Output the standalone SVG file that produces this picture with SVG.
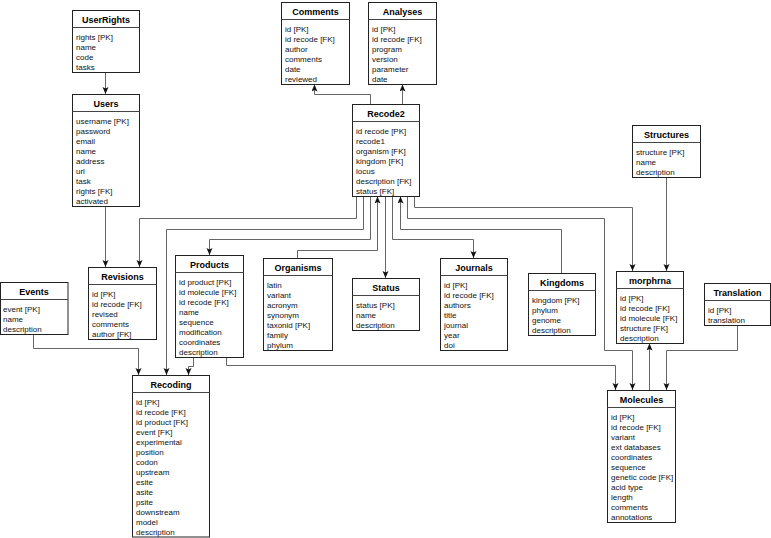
<svg xmlns="http://www.w3.org/2000/svg" width="771" height="538" viewBox="0 0 771 538">
<defs>
<style>
.box{fill:#fff;stroke:#222;stroke-width:1}
.sep{stroke:#444;stroke-width:1}
.hdr{font-family:"Liberation Sans",Arial,sans-serif;font-size:9px;font-weight:bold;text-anchor:middle;fill:#000}
.row{font-family:"Liberation Sans",Arial,sans-serif;font-size:8px;fill:#111}
.conn{fill:none;stroke:#666;stroke-width:1;marker-end:url(#arr)}
</style>
<marker id="arr" markerUnits="userSpaceOnUse" markerWidth="8" markerHeight="7" refX="7" refY="3" orient="auto">
<path d="M0,0 L7,3 L0,6 L1.5,3 z" fill="#111"/>
</marker>
</defs>
<rect width="771" height="538" fill="#fff"/>

<g id="connectors">
<path class="conn" d="M105.5,72.5 V94"/>
<path class="conn" d="M105.5,206.5 V267"/>
<path class="conn" d="M370.5,104 V94.5 H314.5 V84.5"/>
<path class="conn" d="M402.5,104 V84.5"/>
<path class="conn" d="M356.5,196.5 V218.5 H139.5 V267"/>
<path class="conn" d="M363.5,196.5 V229.5 H166.5 V375"/>
<path class="conn" d="M370.5,196.5 V239.5 H209.5 V255"/>
<path class="conn" d="M297.5,258 V250.5 H377.5 V196.5"/>
<path class="conn" d="M385.5,196.5 V278"/>
<path class="conn" d="M392.5,196.5 V239.5 H473.5 V258"/>
<path class="conn" d="M561.5,273 V229.5 H400.5 V196.5"/>
<path class="conn" d="M407.5,196.5 V218.5 H604.5 V350.5 H632.5 V390"/>
<path class="conn" d="M414.5,196.5 V207.5 H632.5 V271"/>
<path class="conn" d="M666.5,177.5 V271"/>
<path class="conn" d="M649.5,390 V343.5"/>
<path class="conn" d="M737.5,325.5 V350.5 H666.5 V390"/>
<path class="conn" d="M226.5,357.5 V365.5 H615.5 V390"/>
<path class="conn" d="M193.5,357.5 V366.5 H188.5 V375"/>
<path class="conn" d="M33.5,334.5 V348.5 H138.5 V375"/>
</g>

<g id="UserRights">
<rect class="box" x="72.5" y="10.5" width="67" height="62"/>
<line class="sep" x1="72.5" y1="27.5" x2="139.5" y2="27.5"/>
<text class="hdr" x="106" y="22.5">UserRights</text>
<text class="row" x="76" y="40">rights [PK]</text>
<text class="row" x="76" y="50">name</text>
<text class="row" x="76" y="60">code</text>
<text class="row" x="76" y="70">tasks</text>
</g>

<g id="Users">
<rect class="box" x="72.5" y="94.5" width="67" height="112"/>
<line class="sep" x1="72.5" y1="111.5" x2="139.5" y2="111.5"/>
<text class="hdr" x="106" y="106.5">Users</text>
<text class="row" x="76" y="124">username [PK]</text>
<text class="row" x="76" y="134">password</text>
<text class="row" x="76" y="144">email</text>
<text class="row" x="76" y="154">name</text>
<text class="row" x="76" y="164">address</text>
<text class="row" x="76" y="174">url</text>
<text class="row" x="76" y="184">task</text>
<text class="row" x="76" y="194">rights [FK]</text>
<text class="row" x="76" y="204">activated</text>
</g>

<g id="Comments">
<rect class="box" x="281.5" y="2.5" width="68" height="82"/>
<line class="sep" x1="281.5" y1="19.5" x2="349.5" y2="19.5"/>
<text class="hdr" x="315.5" y="14.5">Comments</text>
<text class="row" x="285" y="32">id [PK]</text>
<text class="row" x="285" y="42">id recode [FK]</text>
<text class="row" x="285" y="52">author</text>
<text class="row" x="285" y="62">comments</text>
<text class="row" x="285" y="72">date</text>
<text class="row" x="285" y="82">reviewed</text>
</g>

<g id="Analyses">
<rect class="box" x="368.5" y="2.5" width="68" height="82"/>
<line class="sep" x1="368.5" y1="19.5" x2="436.5" y2="19.5"/>
<text class="hdr" x="402.5" y="14.5">Analyses</text>
<text class="row" x="372" y="32">id [PK]</text>
<text class="row" x="372" y="42">id recode [FK]</text>
<text class="row" x="372" y="52">program</text>
<text class="row" x="372" y="62">version</text>
<text class="row" x="372" y="72">parameter</text>
<text class="row" x="372" y="82">date</text>
</g>

<g id="Recode2">
<rect class="box" x="352.5" y="104.5" width="67" height="92"/>
<line class="sep" x1="352.5" y1="121.5" x2="419.5" y2="121.5"/>
<text class="hdr" x="386" y="116.5">Recode2</text>
<text class="row" x="356" y="134">id recode [PK]</text>
<text class="row" x="356" y="144">recode1</text>
<text class="row" x="356" y="154">organism [FK]</text>
<text class="row" x="356" y="164">kingdom [FK]</text>
<text class="row" x="356" y="174">locus</text>
<text class="row" x="356" y="184">description [FK]</text>
<text class="row" x="356" y="194">status [FK]</text>
</g>

<g id="Structures">
<rect class="box" x="632.5" y="125.5" width="68" height="52"/>
<line class="sep" x1="632.5" y1="142.5" x2="700.5" y2="142.5"/>
<text class="hdr" x="666.5" y="137.5">Structures</text>
<text class="row" x="636" y="155">structure [PK]</text>
<text class="row" x="636" y="165">name</text>
<text class="row" x="636" y="175">description</text>
</g>

<g id="Events">
<rect class="box" x="0.5" y="282.5" width="67.5" height="52"/>
<line class="sep" x1="0.5" y1="299.5" x2="68" y2="299.5"/>
<text class="hdr" x="34" y="294.5">Events</text>
<text class="row" x="3" y="312">event [PK]</text>
<text class="row" x="3" y="322">name</text>
<text class="row" x="3" y="332">description</text>
</g>

<g id="Revisions">
<rect class="box" x="88.5" y="267.5" width="68" height="72"/>
<line class="sep" x1="88.5" y1="284.5" x2="156.5" y2="284.5"/>
<text class="hdr" x="122.5" y="279.5">Revisions</text>
<text class="row" x="92" y="297">id [PK]</text>
<text class="row" x="92" y="307">id recode [FK]</text>
<text class="row" x="92" y="317">revised</text>
<text class="row" x="92" y="327">comments</text>
<text class="row" x="92" y="337">author [FK]</text>
</g>

<g id="Products">
<rect class="box" x="175.5" y="255.5" width="68" height="102"/>
<line class="sep" x1="175.5" y1="272.5" x2="243.5" y2="272.5"/>
<text class="hdr" x="209.5" y="267.5">Products</text>
<text class="row" x="179" y="285">id product [PK]</text>
<text class="row" x="179" y="295">id molecule [FK]</text>
<text class="row" x="179" y="305">id recode [FK]</text>
<text class="row" x="179" y="315">name</text>
<text class="row" x="179" y="325">sequence</text>
<text class="row" x="179" y="335">modification</text>
<text class="row" x="179" y="345">coordinates</text>
<text class="row" x="179" y="355">description</text>
</g>

<g id="Organisms">
<rect class="box" x="263.5" y="258.5" width="69" height="92"/>
<line class="sep" x1="263.5" y1="275.5" x2="332.5" y2="275.5"/>
<text class="hdr" x="298" y="270.5">Organisms</text>
<text class="row" x="267" y="288">latin</text>
<text class="row" x="267" y="298">variant</text>
<text class="row" x="267" y="308">acronym</text>
<text class="row" x="267" y="318">synonym</text>
<text class="row" x="267" y="328">taxonid [PK]</text>
<text class="row" x="267" y="338">family</text>
<text class="row" x="267" y="348">phylum</text>
</g>

<g id="Status">
<rect class="box" x="352.5" y="278.5" width="67" height="52"/>
<line class="sep" x1="352.5" y1="295.5" x2="419.5" y2="295.5"/>
<text class="hdr" x="386" y="290.5">Status</text>
<text class="row" x="356" y="308">status [PK]</text>
<text class="row" x="356" y="318">name</text>
<text class="row" x="356" y="328">description</text>
</g>

<g id="Journals">
<rect class="box" x="440.5" y="258.5" width="67" height="92"/>
<line class="sep" x1="440.5" y1="275.5" x2="507.5" y2="275.5"/>
<text class="hdr" x="474" y="270.5">Journals</text>
<text class="row" x="444" y="288">id [PK]</text>
<text class="row" x="444" y="298">id recode [FK]</text>
<text class="row" x="444" y="308">authors</text>
<text class="row" x="444" y="318">title</text>
<text class="row" x="444" y="328">journal</text>
<text class="row" x="444" y="338">year</text>
<text class="row" x="444" y="348">doi</text>
</g>

<g id="Kingdoms">
<rect class="box" x="528.5" y="273.5" width="67" height="62"/>
<line class="sep" x1="528.5" y1="290.5" x2="595.5" y2="290.5"/>
<text class="hdr" x="562" y="285.5">Kingdoms</text>
<text class="row" x="532" y="303">kingdom [PK]</text>
<text class="row" x="532" y="313">phylum</text>
<text class="row" x="532" y="323">genome</text>
<text class="row" x="532" y="333">description</text>
</g>

<g id="morphrna">
<rect class="box" x="616.5" y="271.5" width="67" height="72"/>
<line class="sep" x1="616.5" y1="288.5" x2="683.5" y2="288.5"/>
<text class="hdr" x="650" y="283.5">morphrna</text>
<text class="row" x="620" y="301">id [PK]</text>
<text class="row" x="620" y="311">id recode [FK]</text>
<text class="row" x="620" y="321">id molecule [FK]</text>
<text class="row" x="620" y="331">structure [FK]</text>
<text class="row" x="620" y="341">description</text>
</g>

<g id="Translation">
<rect class="box" x="704.5" y="283.5" width="66" height="42"/>
<line class="sep" x1="704.5" y1="300.5" x2="770.5" y2="300.5"/>
<text class="hdr" x="737.5" y="295.5">Translation</text>
<text class="row" x="708" y="313">id [PK]</text>
<text class="row" x="708" y="323">translation</text>
</g>

<g id="Recoding">
<rect class="box" x="132.5" y="375.5" width="77" height="161.5"/>
<line class="sep" x1="132.5" y1="392.5" x2="209.5" y2="392.5"/>
<text class="hdr" x="171" y="387.5">Recoding</text>
<text class="row" x="136" y="405">id [PK]</text>
<text class="row" x="136" y="415">id recode [FK]</text>
<text class="row" x="136" y="425">id product [FK]</text>
<text class="row" x="136" y="435">event [FK]</text>
<text class="row" x="136" y="445">experimental</text>
<text class="row" x="136" y="455">position</text>
<text class="row" x="136" y="465">codon</text>
<text class="row" x="136" y="475">upstream</text>
<text class="row" x="136" y="485">esite</text>
<text class="row" x="136" y="495">asite</text>
<text class="row" x="136" y="505">psite</text>
<text class="row" x="136" y="515">downstream</text>
<text class="row" x="136" y="525">model</text>
<text class="row" x="136" y="535">description</text>
</g>

<g id="Molecules">
<rect class="box" x="607.5" y="390.5" width="68" height="132"/>
<line class="sep" x1="607.5" y1="407.5" x2="675.5" y2="407.5"/>
<text class="hdr" x="641.5" y="402.5">Molecules</text>
<text class="row" x="611" y="420">id [PK]</text>
<text class="row" x="611" y="430">id recode [FK]</text>
<text class="row" x="611" y="440">variant</text>
<text class="row" x="611" y="450">ext databases</text>
<text class="row" x="611" y="460">coordinates</text>
<text class="row" x="611" y="470">sequence</text>
<text class="row" x="611" y="480">genetic code [FK]</text>
<text class="row" x="611" y="490">acid type</text>
<text class="row" x="611" y="500">length</text>
<text class="row" x="611" y="510">comments</text>
<text class="row" x="611" y="520">annotations</text>
</g>
</svg>
